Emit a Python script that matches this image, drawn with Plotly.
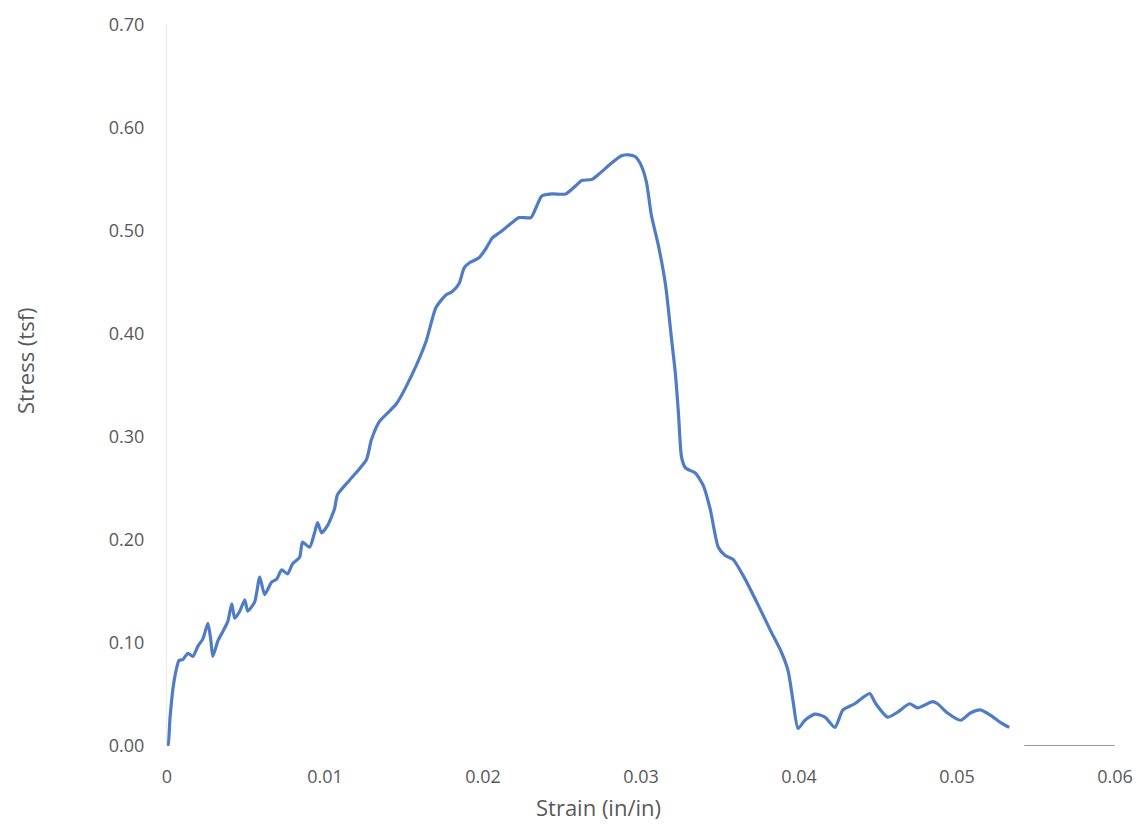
import plotly.graph_objects as go

# Strain (in/in) and stress (tsf)
strain = [0.0, 0.00006, 0.00019, 0.00038, 0.00057, 0.00076, 0.00101, 0.00132, 0.00164, 0.00196,
          0.00227, 0.00259, 0.00278, 0.00290, 0.00322, 0.00353, 0.00385, 0.00410, 0.00429, 0.00461,
          0.00492, 0.00511, 0.00555, 0.00587, 0.00618, 0.00662, 0.00694, 0.00726, 0.00763, 0.00795,
          0.00839, 0.00858, 0.00902, 0.00934, 0.00953, 0.00978, 0.01016, 0.01060, 0.01079, 0.01155,
          0.01262, 0.01293, 0.01344, 0.01451, 0.01552, 0.01640, 0.01703, 0.01767, 0.01804, 0.01849,
          0.01880, 0.01912, 0.01975, 0.02019, 0.02057, 0.02101, 0.02183, 0.02227, 0.02303, 0.02334,
          0.02372, 0.02435, 0.02524, 0.02587, 0.02625, 0.02688, 0.02732, 0.02814, 0.02877, 0.02921,
          0.02965, 0.03003, 0.03035, 0.03066, 0.03110, 0.03155, 0.03192, 0.03218, 0.03237, 0.03256,
          0.03281, 0.03344, 0.03394, 0.03438, 0.03489, 0.03533, 0.03584, 0.03659, 0.03741, 0.03823,
          0.03886, 0.03931, 0.03962, 0.03994, 0.04038, 0.04101, 0.04164, 0.04227, 0.04278, 0.04353,
          0.04404, 0.04448, 0.04486, 0.04562, 0.04625, 0.04700, 0.04751, 0.04845, 0.04877, 0.04940,
          0.05022, 0.05085, 0.05148, 0.05211, 0.05274, 0.05331]
stress = [0.000, 0.000, 0.027, 0.056, 0.073, 0.083, 0.084, 0.090, 0.087, 0.097,
          0.104, 0.119, 0.102, 0.087, 0.102, 0.111, 0.121, 0.138, 0.124, 0.131,
          0.142, 0.131, 0.140, 0.164, 0.147, 0.159, 0.162, 0.171, 0.167, 0.177,
          0.183, 0.198, 0.193, 0.207, 0.217, 0.207, 0.214, 0.230, 0.244, 0.258,
          0.278, 0.297, 0.315, 0.332, 0.361, 0.393, 0.426, 0.438, 0.441, 0.449,
          0.464, 0.469, 0.474, 0.483, 0.493, 0.498, 0.508, 0.513, 0.513, 0.522,
          0.534, 0.536, 0.536, 0.544, 0.549, 0.550, 0.555, 0.566, 0.573, 0.574,
          0.572, 0.563, 0.547, 0.515, 0.486, 0.448, 0.397, 0.361, 0.323, 0.281,
          0.270, 0.265, 0.253, 0.230, 0.193, 0.185, 0.181, 0.162, 0.137, 0.111,
          0.092, 0.073, 0.044, 0.017, 0.025, 0.031, 0.028, 0.018, 0.035, 0.041,
          0.047, 0.051, 0.041, 0.028, 0.033, 0.041, 0.037, 0.043, 0.041, 0.032,
          0.025, 0.032, 0.035, 0.030, 0.023, 0.018]

# short dark baseline fragment visible at the right end of the x axis
baseline_x = [0.05426, 0.0600]
baseline_y = [0.0, 0.0]

x_ticks = [0, 0.01, 0.02, 0.03, 0.04, 0.05, 0.06]
x_tick_labels = ["0", "0.01", "0.02", "0.03", "0.04", "0.05", "0.06"]
y_ticks = [0, 0.1, 0.2, 0.3, 0.4, 0.5, 0.6, 0.7]
y_tick_labels = ["0.00", "0.10", "0.20", "0.30", "0.40", "0.50", "0.60", "0.70"]

x_title = "Strain (in/in)"
y_title = "Stress (tsf)"

FONT = "'Open Sans', sans-serif"
GREY = "#595959"

fig = go.Figure()
fig.add_trace(go.Scatter(
    x=baseline_x, y=baseline_y, mode="lines",
    line=dict(color="#7a7a7a", width=1.5), hoverinfo="skip", showlegend=False))
fig.add_trace(go.Scatter(
    x=strain, y=stress, mode="lines",
    line=dict(color="#4f7cc4", width=3.2, shape="spline", smoothing=0.6),
    showlegend=False))

fig.update_layout(
    width=1145, height=825,
    margin=dict(l=167, r=27, t=17, b=79),
    paper_bgcolor="white", plot_bgcolor="white",
    font=dict(family=FONT, color=GREY, size=18),
    xaxis=dict(
        range=[0, 0.06], tickmode="array", tickvals=x_ticks, ticktext=x_tick_labels,
        showgrid=False, zeroline=False, showline=False,
        ticks="outside", ticklen=14, tickcolor="rgba(0,0,0,0)",
        tickfont=dict(size=18, color=GREY),
    ),
    yaxis=dict(
        range=[0, 0.70], tickmode="array", tickvals=y_ticks, ticktext=y_tick_labels,
        showgrid=False, zeroline=False, showline=True, linecolor="#e8e8e8", linewidth=1,
        ticks="outside", ticklen=18, tickcolor="rgba(0,0,0,0)",
        tickfont=dict(size=18, color=GREY),
    ),
    annotations=[
        dict(text=x_title, xref="paper", yref="paper", x=0.455, y=-0.085,
             xanchor="center", yanchor="middle", showarrow=False,
             font=dict(size=22, color=GREY)),
        dict(text=y_title, xref="paper", yref="paper", x=-0.150, y=0.535,
             xanchor="center", yanchor="middle", showarrow=False, textangle=-90,
             font=dict(size=22, color=GREY)),
    ],
)

fig.write_html("out.html")
